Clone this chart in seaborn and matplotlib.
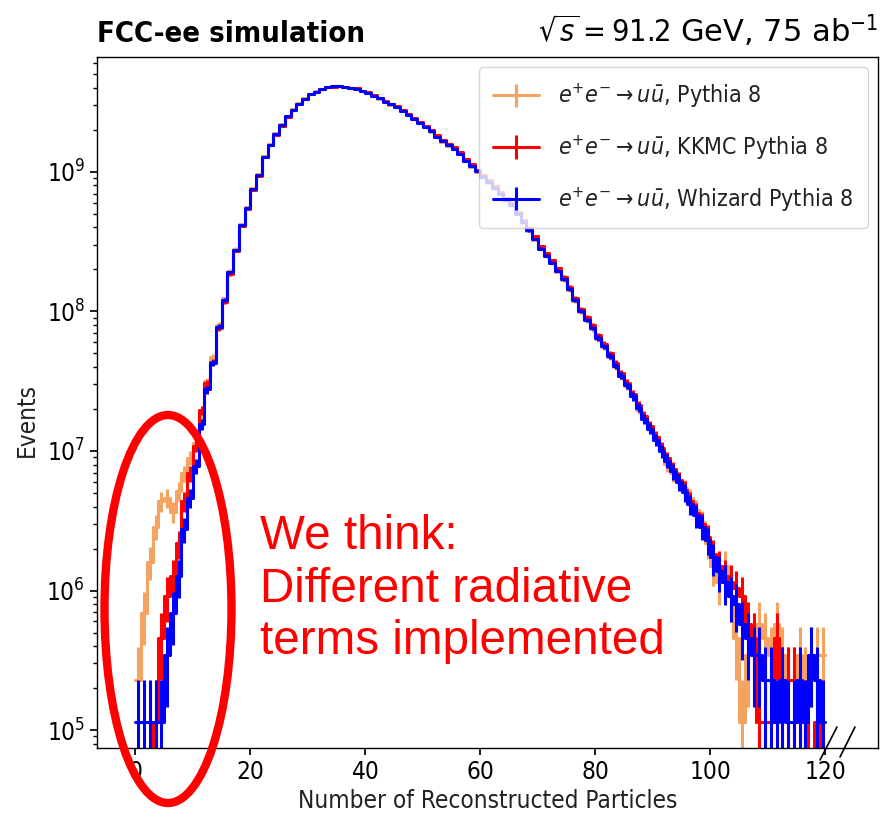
import numpy as np
import pandas as pd
import matplotlib
matplotlib.use("Agg")
import matplotlib.pyplot as plt
import seaborn as sns
from matplotlib.patches import Ellipse
from matplotlib.lines import Line2D

# ---------------- data (MC event counts per unit-width bin, 0..120) ----------------
bin_edges = list(range(0, 121))
event_weight = 1.15e5   # events per MC event for 75 ab^-1

counts_pythia = [
    2, 6, 14, 25, 38, 40, 32, 45, 60, 78,
    100, 150, 275, 410, 700, 1080, 1700, 2450, 3700, 4880,
    6720, 8450, 11400, 13900, 16500, 19100, 22000, 24500, 27100, 29400,
    31500, 33000, 34400, 35400, 35700, 35900, 35500, 34600, 34300, 33000,
    31900, 30600, 29100, 27600, 26400, 25200, 23700, 22100, 20700, 19400,
    18200, 16900, 15500, 14300, 13400, 12700, 11600, 10400, 9450, 8700,
    8000, 7300, 6600, 6000, 5450, 4950, 4320, 3760, 3280, 2850,
    2430, 2160, 1930, 1680, 1460, 1240, 1040, 860, 750, 650,
    555, 485, 410, 350, 298, 255, 215, 172, 150, 128,
    106, 88, 70, 60, 53, 47, 40, 33, 27, 19,
    13, 10, 13, 8, 4, 1, 3, 4, 5, 4,
    3, 5, 3, 2, 2, 3, 2, 3, 3, 3]

counts_kkmc = [
    0, 0, 0, 1, 4, 8, 11, 19, 38, 60,
    95, 170, 265, 380, 660, 1020, 1610, 2350, 3560, 4700,
    6500, 8200, 11050, 13500, 16100, 18700, 21600, 24100, 26700, 29100,
    31300, 32800, 34300, 35300, 35600, 35800, 35400, 34800, 34500, 33300,
    32300, 31000, 29600, 28100, 26900, 25700, 24300, 22700, 21300, 19900,
    18700, 17400, 16000, 14800, 13900, 13100, 12000, 10800, 9850, 9050,
    8300, 7600, 6900, 6250, 5680, 5180, 4520, 3950, 3440, 3000,
    2560, 2280, 2030, 1770, 1540, 1310, 1090, 910, 790, 690,
    585, 510, 435, 370, 315, 268, 223, 186, 155, 131,
    110, 91, 77, 65, 54, 46, 38, 31, 26, 21,
    16, 13, 11, 10, 9, 8, 5, 4, 1, 1,
    1, 4, 2, 2, 2, 1, 1, 0, 1, 0]

counts_whizard = [
    1, 1, 1, 1, 1, 3, 6, 11, 24, 40,
    68, 135, 240, 372, 676, 1047, 1660, 2399, 3631, 4786,
    6607, 8318, 11220, 13600, 16300, 18900, 21800, 24300, 26900, 29200,
    31300, 32600, 34300, 35300, 35700, 35900, 35500, 34674, 34400, 33113,
    31989, 30690, 29242, 27733, 26546, 25351, 23823, 22284, 20893, 19498,
    18323, 16982, 15596, 14388, 13490, 12794, 11668, 10471, 9550, 8770,
    8054, 7362, 6668, 6053, 5495, 5012, 4365, 3802, 3311, 2884,
    2455, 2188, 1950, 1698, 1479, 1259, 1047, 871, 759, 661,
    562, 490, 417, 355, 302, 257, 214, 178, 148, 126,
    105, 87, 74, 62, 52, 44, 36, 30, 25, 20,
    15, 12, 10, 8, 7, 5, 4, 3, 3, 2,
    2, 1, 2, 1, 1, 2, 1, 3, 2, 1]

series_labels = [
    r"$e^{+}e^{-}\rightarrow u\bar{u}$, Pythia 8",
    r"$e^{+}e^{-}\rightarrow u\bar{u}$, KKMC Pythia 8",
    r"$e^{+}e^{-}\rightarrow u\bar{u}$, Whizard Pythia 8",
]
series_colors = ["#F4A460", "#FF0000", "#0000FF"]
x_ticks = [0, 20, 40, 60, 80, 100, 120]

# ---------------- style ----------------
sns.set_theme(style="ticks")
plt.rcParams.update({
    "font.family": ["DejaVu Sans"],
    "font.stretch": "condensed",
    "axes.edgecolor": "black",
    "axes.linewidth": 1.0,
    "xtick.color": "black",
    "ytick.color": "black",
    "xtick.major.size": 5,
    "ytick.major.size": 5,
    "ytick.minor.size": 3,
    "xtick.labelsize": 17.5,
    "ytick.labelsize": 17.5,
    "axes.labelsize": 17.5,
    "text.color": "#222222",
    "axes.labelcolor": "#222222",
})

fig = plt.figure(figsize=(8.8, 8.27), dpi=100)
ax = fig.add_axes([0.1102, 0.0955, 0.8875, 0.8356])
ax.set_yscale("log")

centers = np.arange(0, 120) + 0.5
lw = 2.2
for cnt, col in zip([counts_pythia, counts_kkmc, counts_whizard], series_colors):
    cnt = np.asarray(cnt, dtype=float)
    vals = cnt * event_weight
    df = pd.DataFrame({"n": centers, "events": vals})
    sns.histplot(data=df, x="n", weights="events", bins=bin_edges, element="step",
                 fill=False, color=col, linewidth=lw, ax=ax)
    m = cnt > 0
    ax.errorbar(centers[m], vals[m], yerr=np.sqrt(cnt[m]) * event_weight,
                fmt="none", ecolor=col, elinewidth=lw)

# legend proxies (errorbar style handles)
handles = []
for lab, col in zip(series_labels, series_colors):
    h = ax.errorbar([np.nan], [np.nan], yerr=[1.0], color=col, lw=lw,
                    elinewidth=lw, label=lab)
    handles.append(h)
leg = ax.legend(handles=handles, labels=series_labels, loc="upper right",
                fontsize=16.7, frameon=True, fancybox=True, framealpha=0.8,
                edgecolor="0.8", handlelength=2.0, labelspacing=1.0,
                borderpad=0.62, borderaxespad=0.45)

ax.set_xlim(-6.7, 129.13)
ax.set_ylim(10 ** 4.871, 10 ** 9.824)
ax.set_xticks(x_ticks)
ax.set_xlabel("Number of Reconstructed Particles")
ax.set_ylabel("Events")
ax.yaxis.set_label_coords(-0.075, 0.475)
ax.set_title("FCC-ee simulation", loc="left", fontsize=21, fontweight="bold",
             pad=12, color="black")
ax.set_title(r"$\sqrt{s} = 91.2$ GeV, 75 ab$^{-1}$", loc="right", fontsize=22,
             fontstretch="normal", pad=11, color="black")

# axis break marks
for (x0, y0, x1, y1) in [(820, 760, 837, 727), (840, 757, 855, 727)]:
    fig.add_artist(Line2D([x0 / 880, x1 / 880], [1 - y0 / 827, 1 - y1 / 827],
                          color="black", lw=1.2, transform=fig.transFigure))

# annotation
fig.add_artist(Ellipse((168 / 880, 1 - 609 / 827), width=127 / 880, height=388 / 827,
                       transform=fig.transFigure, fill=False, edgecolor="red", lw=6))
fig.text(260 / 880, 1 - 514 / 827, "We think:\nDifferent radiative\nterms implemented",
         color="red", fontsize=34.3, family=["Liberation Sans", "DejaVu Sans"],
         fontstretch="normal", va="top", ha="left", linespacing=1.22)

fig.savefig("out.png", dpi=100)
